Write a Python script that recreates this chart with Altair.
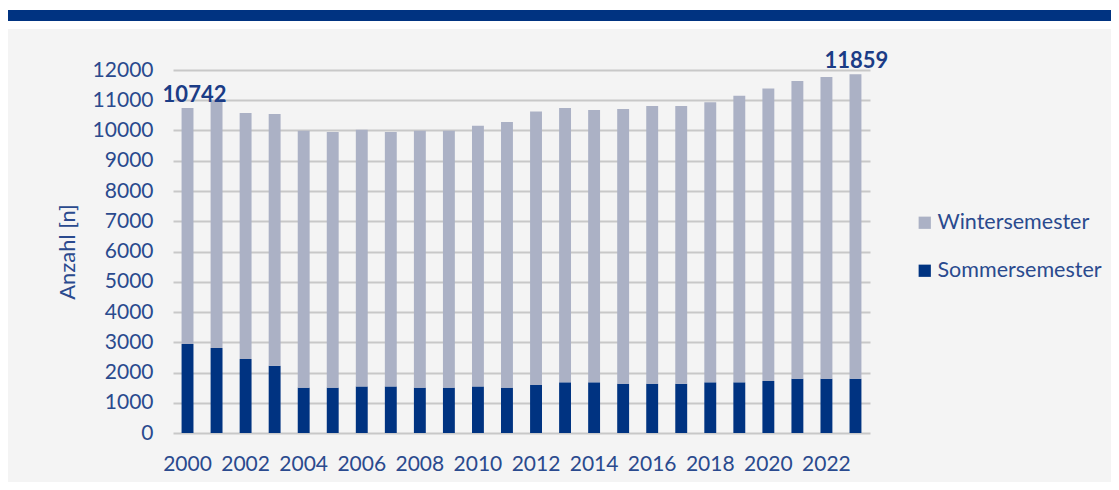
import altair as alt
import pandas as pd

years = list(range(2000, 2024))
totals = [10742, 11000, 10580, 10545, 9990, 9950, 10025, 9950, 9990, 9990,
          10160, 10280, 10630, 10745, 10680, 10710, 10810, 10810, 10930, 11150,
          11390, 11635, 11770, 11859]
sommer = [2940, 2810, 2445, 2225, 1500, 1500, 1540, 1540, 1500, 1500,
          1540, 1500, 1590, 1675, 1675, 1630, 1630, 1630, 1675, 1675,
          1720, 1795, 1795, 1795]
winter = [t - s for t, s in zip(totals, sommer)]
series = ["Wintersemester", "Sommersemester"]
colors = ["#abb1c5", "#003381"]
label_years = [2000, 2023]

rows = []
for y, s, w in zip(years, sommer, winter):
    rows.append({"year": y, "Semester": "Sommersemester", "value": s, "ord": 0})
    rows.append({"year": y, "Semester": "Wintersemester", "value": w, "ord": 1})
df = pd.DataFrame(rows)

lab = pd.DataFrame({
    "year": label_years,
    "value": [totals[years.index(y)] for y in label_years],
})

FONT = "Lato"
TXT = "#2a4a8e"
FS = 21

W, H = 697, 363

xaxis = alt.Axis(values=years[::2], labelAngle=0, domain=False, ticks=False,
                 labelFont=FONT, labelFontSize=FS, labelColor=TXT,
                 labelPadding=20, grid=False, labelOverlap=False)
yaxis = alt.Axis(values=list(range(0, 12001, 1000)), format="d",
                 labelOverlap=False, domain=False, ticks=False,
                 labelFont=FONT, labelFontSize=FS, labelColor=TXT, labelPadding=20,
                 titleFont=FONT, titleFontSize=22, titleColor=TXT,
                 titleFontWeight="normal", titleX=-94, titleY=H / 2,
                 gridColor="#c8c8c8", gridWidth=2)
xscale = alt.Scale(domain=years, paddingInner=0.59, paddingOuter=0.295)
yscale = alt.Scale(domain=[0, 12000], nice=False)

bars = alt.Chart(df).mark_bar().encode(
    x=alt.X("year:O", title=None, scale=xscale, axis=xaxis),
    y=alt.Y("value:Q", stack="zero", title="Anzahl [n]", scale=yscale, axis=yaxis),
    color=alt.Color("Semester:N", scale=alt.Scale(domain=series, range=colors),
                    legend=alt.Legend(title=None, orient="none", legendX=741, legendY=142,
                                      symbolType="square", symbolSize=150,
                                      symbolStrokeWidth=0, labelFont=FONT,
                                      labelFontSize=21.5, labelColor=TXT, labelOffset=2,
                                      labelLimit=400, rowPadding=25, padding=0)),
    order=alt.Order("ord:Q"),
)

def label_layer(year, dx):
    return alt.Chart(lab).transform_filter(alt.datum.year == year).mark_text(
        font=FONT, fontSize=22, fontWeight="bold", color="#1b3c86",
        baseline="alphabetic", dy=-6, dx=dx).encode(
        x=alt.X("year:O", title=None, scale=xscale, axis=xaxis),
        y=alt.Y("value:Q", title="Anzahl [n]", scale=yscale, axis=yaxis),
        text=alt.Text("value:Q", format="d"),
    )

t1 = label_layer(2000, 7)
t2 = label_layer(2023, 1)

deco = pd.DataFrame({"k": [0]})
white = alt.Chart(deco).mark_rect(color="white").encode(
    x=alt.value(-165), x2=alt.value(938), y=alt.value(-62), y2=alt.value(-41))
band = alt.Chart(deco).mark_rect(color="#003381").encode(
    x=alt.value(-165), x2=alt.value(938), y=alt.value(-60), y2=alt.value(-49))

chart = alt.layer(white, band, bars, t1, t2).properties(
    width=W, height=H,
    autosize=alt.AutoSizeParams(type="none"),
    padding={"left": 165, "top": 62, "right": 241, "bottom": 49},
).configure(background="#f4f4f4").configure_view(stroke=None)

chart.save("out.html", embed_options={"renderer": "svg", "actions": False})
